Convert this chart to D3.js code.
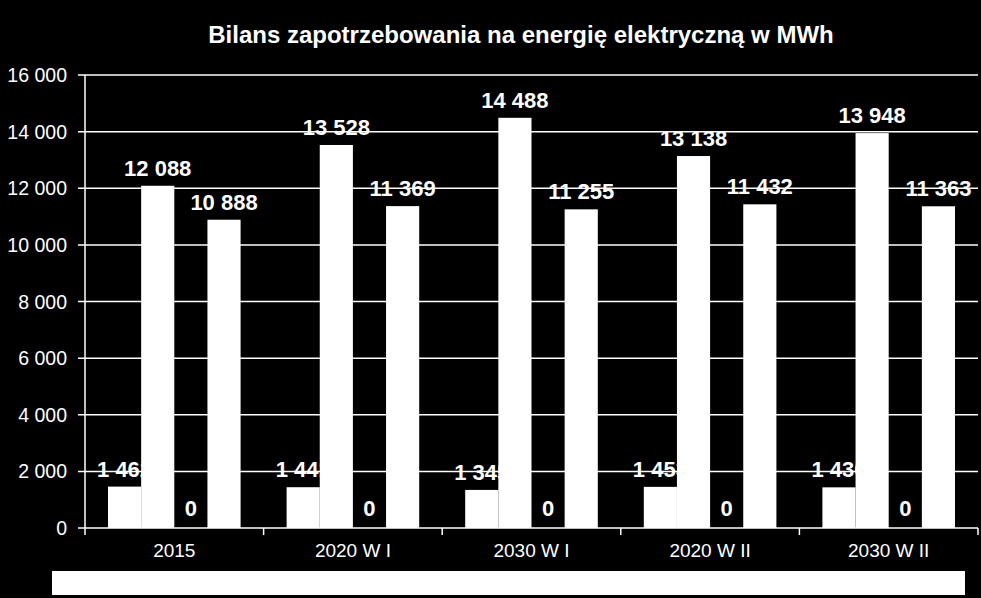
<!DOCTYPE html><html><head><meta charset="utf-8">
<script src="https://cdn.jsdelivr.net/npm/d3@7"></script>
<style>body{margin:0;background:#000}</style></head><body>
<svg id="c" width="981" height="598"></svg>
<script>
const categories=["2015","2020 W I","2030 W I","2020 W II","2030 W II"];
const series1=[1462,1441,1345,1453,1436];
const series2=[12088,13528,14488,13138,13948];
const series3=[0,0,0,0,0];
const series4=[10888,11369,11255,11432,11363];
const yTicks=[0,2000,4000,6000,8000,10000,12000,14000,16000];
const allSeries=[series1,series2,series3,series4];
const fmt=v=>d3.format(",")(v).replace(/,/g," ");
const F="Liberation Sans, Arial";
const svg=d3.select("#c");
svg.append("rect").attr("width",981).attr("height",598).attr("fill","#000");
const x0=d3.scaleBand().domain(categories).range([85,978]).paddingInner(0).paddingOuter(0);
const x1=d3.scaleBand().domain([0,1,2,3]).range([23,x0.bandwidth()-23]);
const y=d3.scaleLinear().domain([0,16000]).range([528,75]);
svg.append("text").attr("x",521).attr("y",43).attr("text-anchor","middle").attr("fill","#fff")
 .attr("font-family",F).attr("font-weight","bold").attr("font-size",24)
 .text("Bilans zapotrzebowania na energię elektryczną w MWh");
const g=svg.append("g");
g.selectAll("line.g").data(yTicks).join("line").attr("x1",78).attr("x2",978)
 .attr("y1",d=>y(d)).attr("y2",d=>y(d)).attr("stroke","#fff").attr("stroke-width",1.5);
g.append("line").attr("x1",85).attr("x2",85).attr("y1",75).attr("y2",528).attr("stroke","#fff").attr("stroke-width",1.5);
g.selectAll("text.yt").data(yTicks).join("text").attr("x",67).attr("y",d=>y(d)+7)
 .attr("text-anchor","end").attr("fill","#fff").attr("font-family",F).attr("font-size",19.5).text(fmt);
const xt=categories.map((c,i)=>i).concat([5]);
g.selectAll("line.xt").data(xt).join("line").attr("x1",d=>85+d*x0.step()).attr("x2",d=>85+d*x0.step())
 .attr("y1",528).attr("y2",535).attr("stroke","#fff").attr("stroke-width",1.5);
g.selectAll("text.xl").data(categories).join("text").attr("x",d=>x0(d)+x0.bandwidth()/2).attr("y",557)
 .attr("text-anchor","middle").attr("fill","#fff").attr("font-family",F).attr("font-size",19).text(d=>d);
allSeries.forEach((s,si)=>{
 const sg=svg.append("g");
 sg.selectAll("rect").data(s).join("rect").attr("x",(d,i)=>x0(categories[i])+x1(si)).attr("width",x1.bandwidth())
  .attr("y",d=>y(d)).attr("height",d=>528-y(d)).attr("fill","#fff");
 sg.selectAll("text").data(s).join("text").attr("x",(d,i)=>x0(categories[i])+x1(si)+x1.bandwidth()/2)
  .attr("text-anchor","middle").attr("fill","#fff")
  .attr("font-family",F).attr("font-weight","bold").attr("font-size",22).text(fmt)
  .attr("y",d=>si===2?516:y(d)-10);
});
svg.append("rect").attr("x",52).attr("y",571).attr("width",913).attr("height",24).attr("fill","#fff");
</script></body></html>
